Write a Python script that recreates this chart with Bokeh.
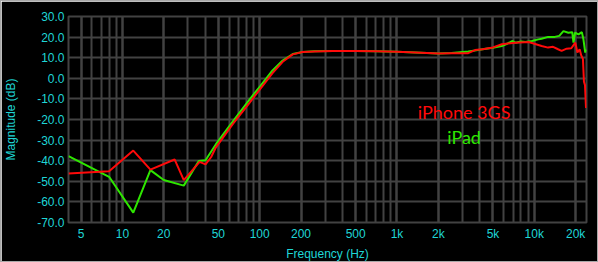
from bokeh.plotting import figure
from bokeh.models import FixedTicker, Range1d, Label, NumeralTickFormatter
from bokeh.embed import file_html
from bokeh.resources import INLINE

# ---- data ----
green_f = [4.05, 8, 12, 16, 20, 28, 36, 40.3, 48, 64, 84, 100, 124, 147, 174, 205, 250, 340,
           500, 700, 1000, 1500, 2000, 2500, 3300, 3700, 4200, 5000, 5800, 6400, 6900, 7300,
           8000, 8600, 9600, 10700, 11300, 12600, 14100, 15200, 16300, 17700, 18900, 19300,
           19800, 21000, 22200, 22800, 23500, 23900]
green_db = [-37.8, -47.8, -65.2, -44.6, -49.4, -52.1, -40.1, -39.8, -32.0, -20.8, -10.5, -4.1,
            3.8, 8.6, 11.8, 12.8, 13.1, 13.3, 13.2, 13.1, 12.9, 12.4, 12.0, 12.3, 13.0, 13.5,
            14.1, 14.8, 15.7, 16.9, 18.1, 17.3, 17.9, 17.6, 18.1, 18.9, 19.2, 20.1, 20.1,
            20.6, 22.9, 22.1, 22.4, 17.3, 22.1, 21.3, 22.4, 18.9, 12.5, 14.0]

red_f = [4.05, 8, 12, 16, 24, 28, 36.5, 40.3, 44.3, 48, 64, 84, 100, 124, 147, 174, 205, 250,
         340, 500, 700, 1000, 1500, 2000, 2500, 3300, 3700, 4200, 5000, 5800, 7300, 9100,
         10000, 11300, 12600, 13700, 14900, 15800, 17200, 18600, 19900, 20600, 21400, 22000,
         22600, 23000, 23400, 23800]
red_db = [-46.2, -45.1, -35.1, -44.3, -39.4, -49.4, -40.6, -41.8, -38.2, -33.5, -22.0, -12.0,
          -5.5, 2.5, 8.0, 11.6, 12.8, 13.0, 13.2, 13.2, 13.1, 12.9, 12.4, 12.0, 12.1, 12.2,
          13.7, 14.1, 15.0, 16.5, 17.3, 17.6, 16.8, 15.7, 14.9, 15.3, 14.1, 13.3, 14.4, 14.6,
          17.3, 12.5, 14.1, 11.0, 9.4, -1.7, -3.3, -14.4]

x_ticks = [5, 10, 20, 50, 100, 200, 500, 1000, 2000, 5000, 10000, 20000]
x_labels = ["5", "10", "20", "50", "100", "200", "500", "1k", "2k", "5k", "10k", "20k"]
x_minor = [m * d for d in (1, 10, 100, 1000, 10000) for m in range(1, 10) if 4.05 < m * d < 24000]
y_ticks = [-70, -60, -50, -40, -30, -20, -10, 0, 10, 20, 30]

series_names = ["iPhone 3GS", "iPad"]

# ---- styling ----
CYAN = "#1fd6d6"
GRID = "#424242"
RED = "#ff0a0a"
GREEN = "#2ee600"
FONT = "Liberation Sans"

p = figure(width=598, height=262, x_axis_type="log",
           x_range=Range1d(4.05, 24000), y_range=Range1d(-70, 30),
           output_backend="svg", toolbar_location=None,
           min_border_left=65, min_border_right=13, min_border_top=15, min_border_bottom=37)

p.styles = {"border": "1px solid #a8a8a8", "box-sizing": "border-box"}

p.background_fill_color = "black"
p.border_fill_color = "black"
p.outline_line_color = GRID
p.outline_line_width = 2

p.xaxis.ticker = FixedTicker(ticks=x_ticks, minor_ticks=x_minor)
p.xaxis.major_label_overrides = {t: l for t, l in zip(x_ticks, x_labels)}
p.yaxis.ticker = FixedTicker(ticks=y_ticks)
p.yaxis.formatter = NumeralTickFormatter(format="0.0")

p.xgrid.ticker = p.xaxis.ticker
p.ygrid.ticker = p.yaxis.ticker
for g in (p.xgrid, p.ygrid):
    g.grid_line_color = GRID
    g.grid_line_width = 2
p.xgrid.minor_grid_line_color = GRID
p.xgrid.minor_grid_line_width = 2

for ax in (p.xaxis, p.yaxis):
    ax.axis_line_color = None
    ax.major_tick_line_color = None
    ax.minor_tick_line_color = None
    ax.major_tick_out = 0
    ax.major_tick_in = 0
    ax.minor_tick_out = 0
    ax.minor_tick_in = 0
    ax.major_label_text_color = CYAN
    ax.major_label_text_font = FONT
    ax.major_label_text_font_size = "12px"
    ax.major_label_standoff = 4
    ax.axis_label_text_color = CYAN
    ax.axis_label_text_font = FONT
    ax.axis_label_text_font_size = "12px"
    ax.axis_label_text_font_style = "normal"

p.xaxis.axis_label = "Frequency (Hz)"
p.yaxis.axis_label = "Magnitude (dB)"
p.xaxis.axis_label_standoff = 3
p.yaxis.axis_label_standoff = 16

p.line(green_f, green_db, line_color=GREEN, line_width=2)
p.line(red_f, red_db, line_color=RED, line_width=2)

p.add_layout(Label(x=3080, y=-16.2, text=series_names[0], text_color=RED,
                   text_font="Lato", text_font_size="18px",
                   text_align="center", text_baseline="middle"))
p.add_layout(Label(x=3080, y=-28.3, text=series_names[1], text_color=GREEN,
                   text_font="Lato", text_font_size="18px",
                   text_align="center", text_baseline="middle"))

open("out.html", "w").write(file_html(p, INLINE))
